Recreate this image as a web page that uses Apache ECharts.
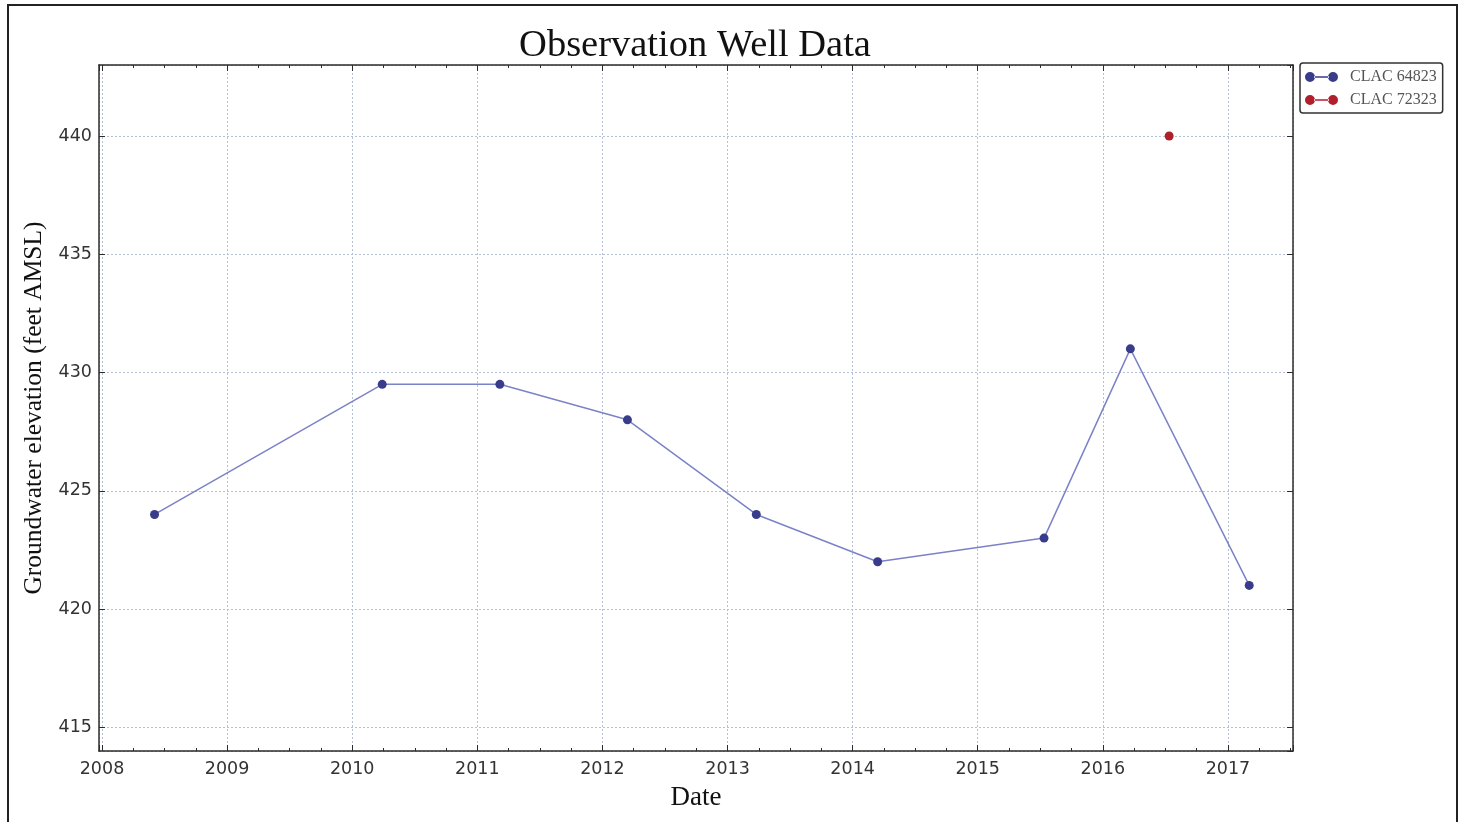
<!DOCTYPE html>
<html>
<head>
<meta charset="utf-8">
<script src="https://cdn.jsdelivr.net/npm/echarts@6/dist/echarts.min.js"></script>
<style>html,body{margin:0;padding:0;background:#fff}#c{width:1463px;height:822px}</style>
</head>
<body>
<div id="c"></div>
<script>
// Data
const seriesNames = ['CLAC 64823', 'CLAC 72323'];
const well1Dates = [2008.42, 2010.24, 2011.18, 2012.20, 2013.23, 2014.20, 2015.53, 2016.22, 2017.17];
const well1Levels = [424, 429.5, 429.5, 428, 424, 422, 423, 431, 421];
const well2Dates = [2016.53];
const well2Levels = [440];

const xMin = 2007.976, xMax = 2017.52;
const yMin = 414, yMax = 443;

const serif = '"Liberation Serif", "DejaVu Serif", serif';
const sans = '"DejaVu Sans", sans-serif';
const axisCol = '#2b2b2b';
const gridLine = { show: true, lineStyle: { color: '#b4bfd8', width: 1, type: [2, 2] } };

const chart = echarts.init(document.getElementById('c'));

function frameAxis(extra) {
  return Object.assign({
    axisLine: { show: true, onZero: false, lineStyle: { color: axisCol, width: 1.5 } },
    axisTick: { show: true, inside: true, length: 6, lineStyle: { color: axisCol, width: 1 } },
    minorTick: { show: true, splitNumber: 4, length: 3, lineStyle: { color: axisCol, width: 1 } },
    axisLabel: { show: false },
    splitLine: { show: false }
  }, extra);
}

chart.setOption({
  backgroundColor: '#fff',
  animation: false,
  title: {
    text: 'Observation Well Data',
    left: 690, top: 21, textAlign: 'center',
    textStyle: { fontFamily: serif, fontSize: 38.5, fontWeight: 'normal', color: '#111' }
  },
  graphic: [{
    type: 'rect', shape: { x: 8, y: 5, width: 1449, height: 830 },
    style: { fill: 'none', stroke: '#222', lineWidth: 2 }, silent: true, z: -1
  }],
  legend: {
    orient: 'vertical', left: 1300, top: 63,
    padding: [6, 6, 5, 5], itemGap: 7, itemWidth: 33, itemHeight: 10,
    borderColor: '#333', borderWidth: 1.5, borderRadius: 3,
    textStyle: { fontFamily: serif, fontSize: 16, color: '#555', padding: [0, 0, 0, 7] },
    icon: 'path://M0,5a5,5 0 1,0 10,0a5,5 0 1,0 -10,0ZM23,5a5,5 0 1,0 10,0a5,5 0 1,0 -10,0ZM9,4.3h15v1.4h-15Z',
    data: seriesNames
  },
  grid: { left: 99, right: 170, top: 65, bottom: 71 },
  xAxis: [
    frameAxis({
      type: 'value', min: xMin, max: xMax, splitNumber: 10, position: 'bottom',
      name: 'Date', nameLocation: 'middle', nameGap: 33,
      nameTextStyle: { fontFamily: serif, fontSize: 27, color: '#111' },
      axisLabel: { show: true, showMinLabel: false, showMaxLabel: false, margin: 9,
        fontFamily: sans, fontSize: 17.5, color: '#333', formatter: v => String(Math.round(v)) },
      splitLine: gridLine
    }),
    frameAxis({ type: 'value', min: xMin, max: xMax, splitNumber: 10, position: 'top' })
  ],
  yAxis: [
    frameAxis({
      type: 'value', min: yMin, max: yMax, splitNumber: 6, position: 'left',
      name: 'Groundwater elevation (feet AMSL)', nameLocation: 'middle', nameGap: 52,
      nameTextStyle: { fontFamily: serif, fontSize: 25.5, color: '#111' },
      minorTick: { show: false },
      axisLabel: { show: true, showMinLabel: false, showMaxLabel: false, margin: 7,
        fontFamily: sans, fontSize: 17.5, color: '#333' },
      splitLine: gridLine
    }),
    frameAxis({ type: 'value', min: yMin, max: yMax, splitNumber: 6, position: 'right',
      minorTick: { show: false } })
  ],
  series: [
    {
      name: seriesNames[0], type: 'line', xAxisIndex: 0, yAxisIndex: 0,
      data: well1Dates.map((d, i) => [d, well1Levels[i]]),
      symbol: 'circle', symbolSize: 9, showSymbol: true,
      lineStyle: { color: '#7c82c6', width: 1.5 },
      itemStyle: { color: '#383c8a' }
    },
    {
      name: seriesNames[1], type: 'line', xAxisIndex: 0, yAxisIndex: 0,
      data: well2Dates.map((d, i) => [d, well2Levels[i]]),
      symbol: 'circle', symbolSize: 9, showSymbol: true,
      lineStyle: { color: '#c84a52', width: 1.5 },
      itemStyle: { color: '#b01f2c' }
    }
  ]
});
</script>
</body>
</html>
